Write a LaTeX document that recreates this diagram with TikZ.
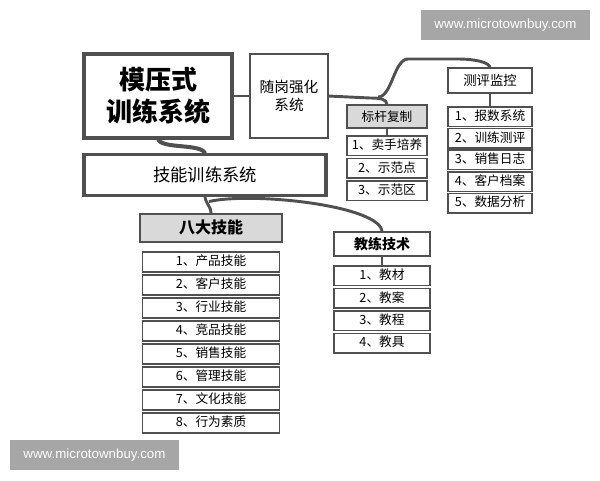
\documentclass[tikz,border=0pt]{standalone}
\usepackage{fontspec}
\setmainfont{Noto Sans CJK SC}
\newfontfamily\wmfont{Liberation Sans}
\usetikzlibrary{positioning, calc}
\definecolor{edge}{HTML}{505050}
\definecolor{headfill}{HTML}{D9D9D9}
\definecolor{wmgray}{HTML}{A6A6A6}

\begin{document}
\begin{tikzpicture}[
    x=0.75pt, y=-0.75pt,
    node distance=2.25pt,
    box/.style={draw=edge, fill=white, align=center, inner sep=1pt, outer sep=0pt},
    head/.style={box, line width=1.5pt},
    item/.style={box, line width=1.1pt, minimum width=#1, minimum height=14.6pt,
        text height=7.6pt, text depth=1.9pt, font=\fontsize{9.5}{11}\selectfont},
    link/.style={draw=edge, line width=2.2pt},
    tick/.style={draw=edge, line width=1.1pt},
    wmark/.style={fill=wmgray, text=white, inner sep=0pt,
        minimum width=126.75pt, minimum height=22.5pt,
        font=\wmfont\fontsize{10}{12}\selectfont}
]

    \useasboundingbox (0,0) rectangle (600,480);

    \node[box, line width=3pt, minimum width=111pt, minimum height=63pt,
        font=\fontsize{19.5}{24}\selectfont\bfseries] (main) at (158,96) {模压式\\训练系统};
    \node[box, line width=2.2pt, minimum width=58.5pt, minimum height=63pt,
        font=\fontsize{11}{13.5}\selectfont] (post) at (289,96) {随岗强化\\系统};
    \node[box, line width=2.5pt, minimum width=181.5pt, minimum height=30.75pt,
        font=\fontsize{13}{15}\selectfont] (skill) at (205,175) {技能训练系统};

    \node[head, fill=headfill, minimum width=60pt, minimum height=17.5pt,
        font=\fontsize{9.5}{11}\selectfont] (bench) at (387,116.5) {标杆复制};
    \node[item=60pt, below=6pt of bench] (b1) {1、卖手培养};
    \node[item=60pt, below=of b1] (b2) {2、示范点};
    \node[item=60pt, below=of b2] (b3) {3、示范区};

    \node[head, minimum width=63pt, minimum height=18.75pt,
        font=\fontsize{10}{12}\selectfont] (eval) at (490,80.5) {测评监控};
    \node[item=63pt, below=10.5pt of eval] (e1) {1、报数系统};
    \node[item=63pt, below=1.6pt of e1] (e2) {2、训练测评};
    \node[item=63pt, below=1.6pt of e2] (e3) {3、销售日志};
    \node[item=63pt, below=1.6pt of e3] (e4) {4、客户档案};
    \node[item=63pt, below=1.6pt of e4] (e5) {5、数据分析};

    \node[head, fill=headfill, minimum width=106.5pt, minimum height=21pt,
        font=\fontsize{12}{14}\selectfont\bfseries] (bada) at (211,227.5) {八大技能};
    \node[item=102.75pt, minimum height=15pt, below=7.9pt of bada] (s1) {1、产品技能};
    \node[item=102.75pt, minimum height=15pt, below=of s1] (s2) {2、客户技能};
    \node[item=102.75pt, minimum height=15pt, below=of s2] (s3) {3、行业技能};
    \node[item=102.75pt, minimum height=15pt, below=of s3] (s4) {4、竞品技能};
    \node[item=102.75pt, minimum height=15pt, below=of s4] (s5) {5、销售技能};
    \node[item=102.75pt, minimum height=15pt, below=of s5] (s6) {6、管理技能};
    \node[item=102.75pt, minimum height=15pt, below=of s6] (s7) {7、文化技能};
    \node[item=102.75pt, minimum height=15pt, below=of s7] (s8) {8、行为素质};

    \node[head, minimum width=72pt, minimum height=18pt,
        font=\fontsize{10.5}{12}\selectfont\bfseries] (coach) at (382,244) {教练技术};
    \node[item=72pt, below=7.5pt of coach] (c1) {1、教材};
    \node[item=72pt, below=of c1] (c2) {2、教案};
    \node[item=72pt, below=of c2] (c3) {3、教程};
    \node[item=72pt, below=of c3] (c4) {4、教具};

    \draw[link] (main) -- (post);
    \draw[link, line width=3pt] (main.south) .. controls +(0,12) and +(0,-12) .. (skill.north);
    \draw[link] (post.east) -- ++(42,2) .. controls +(10,0) and +(0,-6) .. (bench.north);
    \draw[link] ($(post.east)+(50,1)$) .. controls +(14,0) and +(-14,0) .. ++(30,-38)
        -- ++(50,0) .. controls +(16,0) and +(0,-6) .. (eval.north);
    \draw[link] (skill.south) .. controls +(0,8) and +(0,-8) .. (bada.north);
    \draw[link] ($(skill.south)+(4,6)$) .. controls +(45,-10) and +(0,-26) .. (coach.north);

    \draw[tick] (bench) -- (b1);
    \draw[tick] (eval) -- (e1);
    \draw[tick] (coach) -- (c1);

    \node[wmark] (w1) at (505.5,25) {www.microtownbuy.com};
    \node[wmark] (w2) at (94.5,455) {www.microtownbuy.com};

\end{tikzpicture}
\end{document}
